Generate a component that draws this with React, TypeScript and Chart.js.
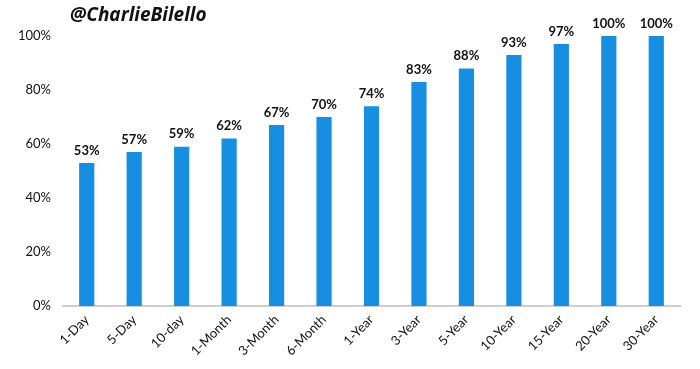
import React, { useEffect, useRef } from "react";
import { Chart, registerables } from "chart.js";

Chart.register(...registerables);

const categories = ["1-Day", "5-Day", "10-day", "1-Month", "3-Month", "6-Month", "1-Year", "3-Year", "5-Year", "10-Year", "15-Year", "20-Year", "30-Year"];
const values = [53, 57, 59, 62, 67, 70, 74, 83, 88, 93, 97, 100, 100];
const titleText = "@CharlieBilello";
const barColor = "#168fe2";

const FONT = "Lato, 'Open Sans', sans-serif";

export default function App() {
  const ref = useRef<HTMLCanvasElement | null>(null);
  useEffect(() => {
    document.body.style.margin = "0";
    const labelPlugin = {
      id: "valLabels",
      afterDatasetsDraw(chart: any) {
        const ctx = chart.ctx;
        const meta = chart.getDatasetMeta(0);
        ctx.save();
        ctx.fillStyle = "#111";
        ctx.font = `bold 13px ${FONT}`;
        ctx.textAlign = "center";
        ctx.textBaseline = "bottom";
        meta.data.forEach((el: any, i: number) => {
          ctx.fillText(values[i] + "%", el.x, el.y - 6);
        });
        ctx.font = `italic bold 19px 'Open Sans', sans-serif`;
        ctx.textAlign = "left";
        ctx.textBaseline = "middle";
        ctx.fillText(titleText, 70, 16);
        ctx.restore();
      },
    };
    const chart = new Chart(ref.current!, {
      type: "bar",
      data: {
        labels: categories,
        datasets: [
          {
            data: values,
            backgroundColor: barColor,
            barPercentage: 0.32,
            categoryPercentage: 1,
          },
        ],
      },
      options: {
        animation: false,
        responsive: false,
        layout: { padding: { left: 0, right: 20, top: 36, bottom: 0 } },
        plugins: { legend: { display: false }, tooltip: { enabled: false } },
        scales: {
          x: {
            grid: { display: false, drawTicks: false },
            border: { color: "#cfcfcf", width: 2 },
            ticks: {
              color: "#111",
              font: { size: 13, family: FONT },
              minRotation: 45,
              maxRotation: 45,
              padding: 6,
              autoSkip: false,
            },
            afterFit(s: any) {
              s.height = 63;
            },
          },
          y: {
            min: 0,
            max: 100,
            grid: { display: false, drawTicks: false },
            border: { display: false },
            ticks: {
              stepSize: 20,
              color: "#111",
              font: { size: 13, family: FONT },
              padding: 12,
              callback: (v: any) => v + "%",
            },
            afterFit(s: any) {
              s.width = 63;
            },
          },
        },
      },
      plugins: [labelPlugin],
    });
    return () => chart.destroy();
  }, []);
  return <canvas ref={ref} width={700} height={369} style={{ display: "block" }} />;
}
